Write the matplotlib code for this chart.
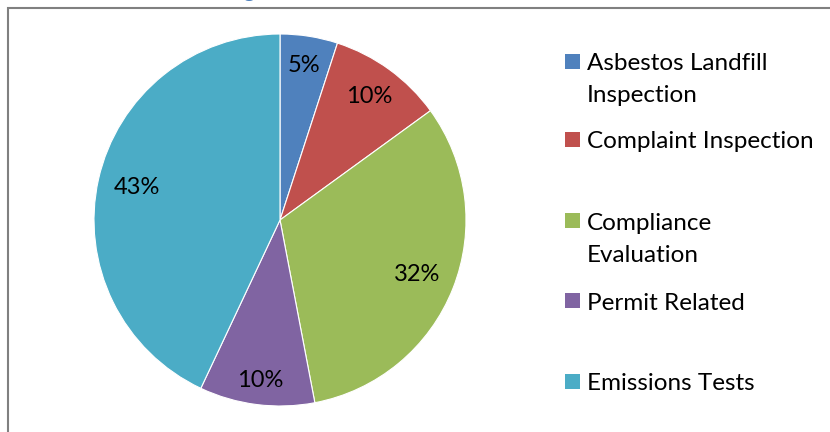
import matplotlib
matplotlib.use("Agg")
import matplotlib.pyplot as plt
from matplotlib.patches import Rectangle
import numpy as np

plt.rcParams['font.family'] = ['Lato', 'DejaVu Sans']

categories = ["Asbestos Landfill\nInspection", "Complaint Inspection",
              "Compliance\nEvaluation", "Permit Related", "Emissions Tests"]
shares = [5, 10, 32, 10, 43]
colors = ["#4F81BD", "#C0504D", "#9BBB59", "#8064A2", "#4BACC6"]
label_dist = [0.84, 0.82, 0.79, 0.87, 0.79]

W, H = 830, 432
fig = plt.figure(figsize=(W / 100, H / 100), dpi=100)

# chart frame (continues past the right and bottom edges)
fig.patches.append(Rectangle((8 / W, -0.1), 1.2, (H - 8) / H + 0.1,
                             transform=fig.transFigure, fill=False,
                             edgecolor="#808080", linewidth=1.5))

# tail of the heading above the chart
fig.text(249 / W, 1 + 3 / H, "g", color="#4F81BD", fontsize=15,
         fontweight="bold", ha="center", va="baseline")

cx, cy, r = 280, 220, 186
ax = fig.add_axes([(cx - r) / W, (H - cy - r) / H, 2 * r / W, 2 * r / H])
wedges, texts = ax.pie(shares, colors=colors, startangle=90, counterclock=False,
                       wedgeprops=dict(edgecolor="white", linewidth=0.8))
ax.set_xlim(-1, 1)
ax.set_ylim(-1, 1)
ax.set_aspect("equal")
ax.axis("off")

for w, v, d in zip(wedges, shares, label_dist):
    ang = np.deg2rad((w.theta1 + w.theta2) / 2)
    ax.text(d * np.cos(ang), d * np.sin(ang), f"{v}%", ha="center",
            va="center", fontsize=17, color="black")

# legend
rows = [62, 140, 221, 301, 382]
line_gap = 32
for lab, col, y in zip(categories, colors, rows):
    fig.patches.append(Rectangle((565 / W, (H - y - 7) / H), 15 / W, 15 / H,
                                 transform=fig.transFigure, facecolor=col,
                                 edgecolor="none"))
    for i, line in enumerate(lab.split("\n")):
        fig.text(587 / W, (H - y - i * line_gap) / H, line, ha="left",
                 va="center_baseline", fontsize=17.5, color="black")

fig.savefig("out.png", dpi=100)
